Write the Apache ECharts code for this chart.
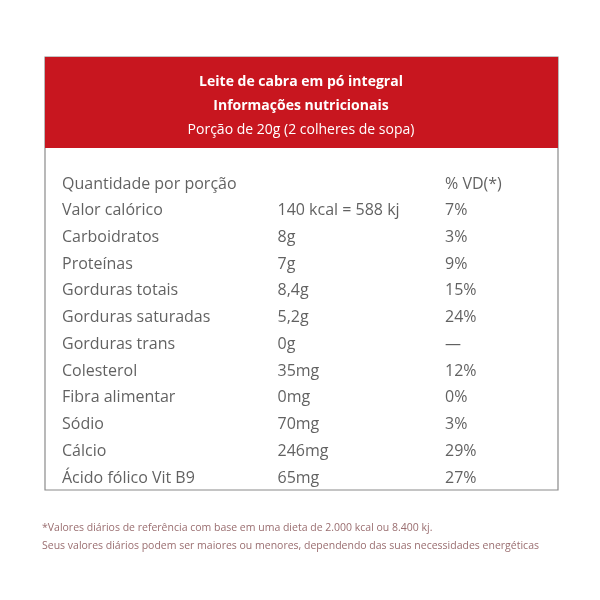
<!DOCTYPE html><html><head><meta charset="utf-8">
<script src="https://cdn.jsdelivr.net/npm/echarts@6/dist/echarts.min.js"></script>
<style>html,body{margin:0;background:#fff}#c{width:600px;height:600px}</style></head><body><div id="c"></div>
<script>
const nutrients=['Quantidade por porção','Valor calórico','Carboidratos','Proteínas','Gorduras totais','Gorduras saturadas','Gorduras trans','Colesterol','Fibra alimentar','Sódio','Cálcio','Ácido fólico Vit B9'];
const amounts=['','140 kcal = 588 kj','8g','7g','8,4g','5,2g','0g','35mg','0mg','70mg','246mg','65mg'];
const dailyValues=['% VD(*)','7%','3%','9%','15%','24%','—','12%','0%','3%','29%','27%'];
const columns=['nutrient','amount','vd'];
const headerLines=['Leite de cabra em pó integral','Informações nutricionais','Porção de 20g (2 colheres de sopa)'];
const footnotes=['*Valores diários de referência com base em uma dieta de 2.000 kcal ou 8.400 kj.','Seus valores diários podem ser maiores ou menores, dependendo das suas necessidades energéticas'];
const F='"Open Sans", sans-serif';
const chart=echarts.init(document.getElementById('c'));
function ser(col,texts,offset){return{type:'scatter',symbolSize:0,silent:true,
 data:texts.map((t,i)=>({value:[columns[col],nutrients[i]],txt:t})),
 label:{show:true,position:'inside',align:'left',offset:[offset,0],formatter:p=>p.data.txt,fontFamily:F,fontSize:16,color:'#3a3a3a'}};}
chart.setOption({
 animation:false,
 grid:{left:62,right:155,top:184,bottom:122},
 xAxis:{type:'category',data:columns,boundaryGap:false,show:false},
 yAxis:{type:'category',data:nutrients,inverse:true,boundaryGap:false,show:false},
 series:[ser(0,nutrients,0),ser(1,amounts,24),ser(2,dailyValues,0)],
 graphic:[
  {type:'rect',shape:{x:45,y:57,width:513,height:433},style:{fill:'none',stroke:'#8a8a8a',lineWidth:1.2}},
  {type:'rect',shape:{x:45,y:57,width:513,height:91},style:{fill:'#c8161f'}},
  ...headerLines.map((t,i)=>({type:'text',x:301,y:82+i*24,style:{text:t,fill:'#fff',font:(i<2?'bold ':'')+'14px '+F,align:'center',verticalAlign:'middle'}})),
  ...footnotes.map((t,i)=>({type:'text',x:42,y:528+i*18,style:{text:t,fill:'#9a6e70',font:'10.5px '+F,align:'left',verticalAlign:'middle'}}))
 ]
});
</script></body></html>
